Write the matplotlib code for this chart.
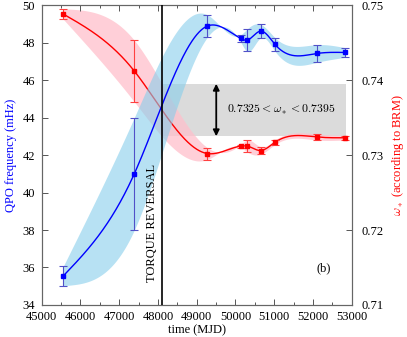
import numpy as np
import matplotlib
matplotlib.use("Agg")
import matplotlib.pyplot as plt
from matplotlib.ticker import MultipleLocator

plt.rcParams['font.family'] = ['Liberation Serif', 'DejaVu Serif']
plt.rcParams['mathtext.fontset'] = 'cm'

# data
t_mjd = [45557, 47390, 49274, 50135, 50306, 50652, 51021, 52113, 52827]
qpo = [35.55, 41.0, 48.88, 48.22, 48.13, 48.61, 47.90, 47.42, 47.47]
qpo_err = [0.52, 3.0, 0.6, 0.19, 0.6, 0.36, 0.36, 0.47, 0.26]
omega = [0.7488, 0.7412, 0.7302, 0.7312, 0.7312, 0.7306, 0.7317, 0.7324, 0.7323]
omega_err = [0.0007, 0.0041, 0.0008, 0.0002, 0.0008, 0.0005, 0.0003, 0.0004, 0.0003]

t_reversal = 48100
omega_lo, omega_hi = 0.7325, 0.7395


def cspline(x, y, xs):
    # natural cubic spline (like gnuplot's smooth csplines)
    x = np.asarray(x, float)
    y = np.asarray(y, float)
    n = len(x)
    h = np.diff(x)
    A = np.zeros((n, n))
    r = np.zeros(n)
    A[0, 0] = A[-1, -1] = 1
    for i in range(1, n - 1):
        A[i, i - 1] = h[i - 1]
        A[i, i] = 2 * (h[i - 1] + h[i])
        A[i, i + 1] = h[i]
        r[i] = 6 * ((y[i + 1] - y[i]) / h[i] - (y[i] - y[i - 1]) / h[i - 1])
    m = np.linalg.solve(A, r)
    k = np.clip(np.searchsorted(x, xs) - 1, 0, n - 2)
    dx = xs - x[k]
    hk = h[k]
    a = (m[k + 1] - m[k]) / (6 * hk)
    b = m[k] / 2
    c = (y[k + 1] - y[k]) / hk - hk * (2 * m[k] + m[k + 1]) / 6
    return y[k] + c * dx + b * dx ** 2 + a * dx ** 3


t = np.array(t_mjd, float)
q = np.array(qpo)
qe = np.array(qpo_err)
w = np.array(omega)
we = np.array(omega_err)
ts = np.linspace(t[0], t[-1], 600)

fig = plt.figure(figsize=(4.07, 3.37), dpi=100)
ax = fig.add_axes([0.1025, 0.095, 0.7615, 0.89])
ax2 = ax.twinx()
ax.set_zorder(ax2.get_zorder() + 1)
ax.patch.set_visible(False)

# red series on the right axis
ax2.fill_between(ts, cspline(t, w - we, ts), cspline(t, w + we, ts),
                 color='pink', alpha=0.75, lw=0, zorder=2)
ax2.fill_between([t_reversal, 52850], omega_lo, omega_hi,
                 color='#d3d3d3', alpha=0.8, lw=0, zorder=1)
ax2.plot(ts, cspline(t, w, ts), color='red', lw=1.0, zorder=3)
ax2.errorbar(t, w, yerr=we, fmt='s', ms=2.5, color='red', ecolor='#ff4040',
             elinewidth=0.8, capsize=3, capthick=0.8, zorder=4)

# blue series on the left axis
ax.fill_between(ts, cspline(t, q - qe, ts), cspline(t, q + qe, ts),
                color='skyblue', alpha=0.6, lw=0, zorder=1)
ax.plot(ts, cspline(t, q, ts), color='blue', lw=1.0, zorder=3)
ax.errorbar(t, q, yerr=qe, fmt='s', ms=2.5, color='blue', ecolor='#5050c8',
            elinewidth=0.8, capsize=3, capthick=0.8, zorder=4)

ax.axvline(t_reversal, color='black', lw=1.2, zorder=5)
ax.text(t_reversal - 90, 35.25, 'TORQUE REVERSAL', rotation=90, ha='right',
        va='bottom', fontsize=9)

ax2.annotate('', xy=(49505, omega_hi), xytext=(49505, omega_lo),
             arrowprops=dict(arrowstyle='<|-|>', color='black', lw=1.3,
                             mutation_scale=9, shrinkA=0, shrinkB=0))
ax2.text(49790, 0.7360, r'$0.7325 < \omega_* < 0.7395$', fontsize=8.5,
         va='center', ha='left')
ax.text(52285, 35.95, '(b)', fontsize=9, ha='center', va='center')

ax.set_xlim(45000, 53000)
ax.set_ylim(34, 50)
ax2.set_ylim(0.71, 0.75)
ax.xaxis.set_major_locator(MultipleLocator(1000))
ax.xaxis.set_minor_locator(MultipleLocator(500))
ax.yaxis.set_major_locator(MultipleLocator(2))
ax2.yaxis.set_major_locator(MultipleLocator(0.01))
ax2.yaxis.set_major_formatter(matplotlib.ticker.FormatStrFormatter('%.2f'))

ax.tick_params(axis='x', which='both', direction='in', top=True, labelsize=9,
               length=4, width=0.7, color='#555555', pad=4)
ax.tick_params(axis='x', which='minor', length=2.5)
ax.tick_params(axis='y', direction='in', labelsize=9, length=4, width=0.7,
               color='#555555', pad=5)
ax2.tick_params(axis='y', direction='in', labelsize=9, length=4, width=0.7,
                color='#555555', pad=7)
for a in (ax, ax2):
    for s in a.spines.values():
        s.set_color('#666666')
        s.set_linewidth(0.8)

ax.set_xlabel('time (MJD)', fontsize=9, labelpad=1.5)
ax.set_ylabel('QPO frequency (mHz)', fontsize=9, color='blue', labelpad=4)
ax2.set_ylabel(r'$\omega_*$ (according to BRM)', fontsize=9, color='red',
               labelpad=5)

fig.savefig('out.png', dpi=100)
